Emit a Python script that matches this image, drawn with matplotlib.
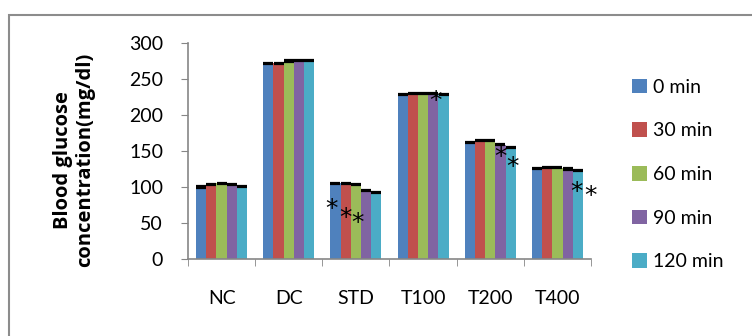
import numpy as np
import matplotlib
matplotlib.use("Agg")
import matplotlib.pyplot as plt
from matplotlib.patches import Rectangle

plt.rcParams['font.family'] = ['Lato', 'DejaVu Sans']

# data
groups = ["NC", "DC", "STD", "T100", "T200", "T400"]
series = ["0 min", "30 min", "60 min", "90 min", "120 min"]
colors = ["#4F81BD", "#C0504D", "#9BBB59", "#8064A2", "#4BACC6"]

min0 = [100, 271, 105, 229, 162, 126]
min30 = [103, 272, 105, 230, 165, 127]
min60 = [105, 275, 103, 230, 164, 127]
min90 = [103, 276, 95, 230, 159, 125]
min120 = [101, 276, 92, 228, 155, 123]
values = [min0, min30, min60, min90, min120]
err = [0.8, 0.8, 0.8, 0.8, 0.8, 0.8]

# significance marks: (x in category units, y value)
star_x = [1.63, 1.85, 2.03, 3.19, 4.15, 4.33, 5.28, 5.49]
star_y = [69, 57, 50, 219, 141, 128, 93, 87]

fig = plt.figure(figsize=(7.52, 3.36), dpi=100)
ax = fig.add_axes([188 / 752, 77 / 336, 403 / 752, 216 / 336])

# outer chart frame
fig.patches.append(Rectangle((8.5 / 752, -0.1), 1.2, (336 - 14.5) / 336 + 0.1,
                             transform=fig.transFigure, fill=False,
                             edgecolor="#8c8c8c", linewidth=1.5))

x = np.arange(len(groups))
bw = 0.152
for i, (vals, c, lab) in enumerate(zip(values, colors, series)):
    pos = x + (i - 2) * bw
    ax.bar(pos, vals, width=bw, color=c, label=lab, edgecolor="none")
    ax.errorbar(pos, vals, yerr=err, fmt="none", ecolor="black",
                elinewidth=1, capsize=3.9, capthick=1.6)

for sx, sy in zip(star_x, star_y):
    ax.text(sx, sy, "*", fontsize=18, ha="center", va="center",
            family="DejaVu Sans", color="black")

ax.set_xlim(-0.5, len(groups) - 0.5)
ax.set_ylim(0, 300)
ax.set_yticks(range(0, 301, 50))
ax.set_xticks(x)
ax.set_xticklabels(groups)
ax.set_xticks(np.arange(-0.5, len(groups)), minor=True)
ax.tick_params(axis="x", which="major", length=0, pad=22, labelsize=14)
ax.tick_params(axis="x", which="minor", length=5, color="#868686")
ax.tick_params(axis="y", length=5, color="#868686", labelsize=14, pad=13)

for s in ["top", "right"]:
    ax.spines[s].set_visible(False)
for s in ["left", "bottom"]:
    ax.spines[s].set_color("#868686")
    ax.spines[s].set_linewidth(1.2)

fig.text(74 / 752, 176 / 336, "Blood glucose\nconcentration(mg/dl)",
         rotation=90, ha="center", va="center", fontsize=14.5,
         family=["Open Sans", "DejaVu Sans"], fontweight="bold",
         linespacing=1.12)

ax.legend(loc="upper left", bbox_to_anchor=(624 / 752, 1 - 71 / 336),
          bbox_transform=fig.transFigure, frameon=False, fontsize=14,
          handlelength=0.77, handleheight=0.77, handletextpad=0.3,
          labelspacing=1.37, borderaxespad=0)

fig.savefig("out.png", dpi=100)
